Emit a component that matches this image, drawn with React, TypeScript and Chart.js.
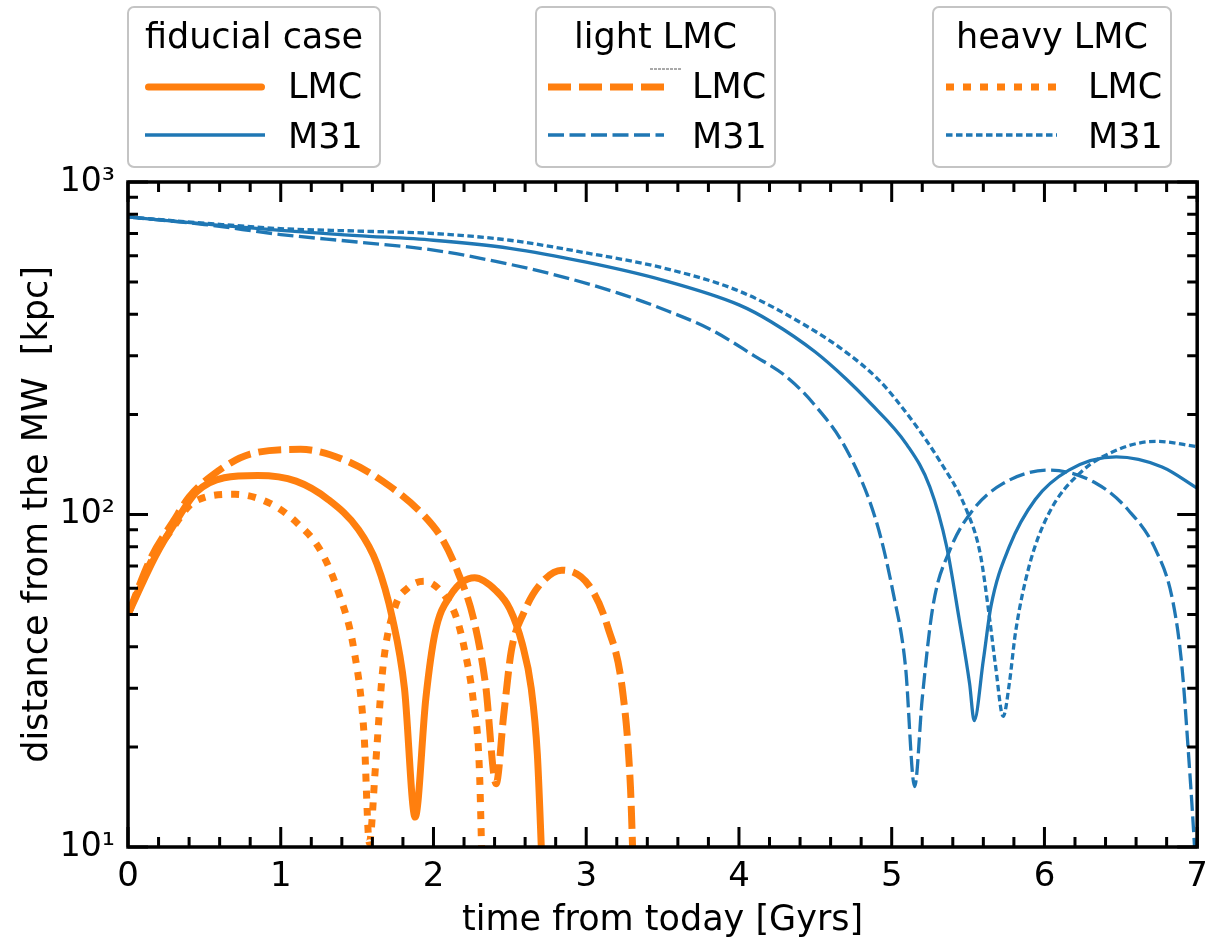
import React, { useEffect, useRef } from 'react';
import { Chart, registerables } from 'chart.js';

Chart.register(...registerables);

const FONT = "'DejaVu Sans', 'Liberation Sans', sans-serif";
const ORANGE = '#ff7f0e';
const BLUE = '#1f77b4';

const X_MIN = 0;
const X_MAX = 7;
const Y_MIN = 10;
const Y_MAX = 1000;
const X_TITLE = 'time from today [Gyrs]';
const Y_TITLE = 'distance from the MW  [kpc]';
const LEGEND_TITLES = ['fiducial case', 'light LMC', 'heavy LMC'];
const LEGEND_LABELS = ['LMC', 'M31'];
const SUPERSCRIPTS = ['⁰', '¹', '²', '³', '⁴'];

// LMC, fiducial case (time in Gyr, distance in kpc)
const lmcFidT = [0, 0.1, 0.18, 0.3, 0.45, 0.63, 0.85, 1.1, 1.31, 1.51, 1.63, 1.73, 1.81, 1.88, 1.95, 2.01, 2.11, 2.27, 2.41, 2.5, 2.58, 2.64, 2.68, 2.71];
const lmcFidD = [50, 63, 75, 93, 117, 129, 131, 126, 111, 90, 71, 49, 30, 12.3, 28, 44, 57, 64.5, 59, 52, 41, 30, 19, 9];
// LMC, light LMC
const lmcLightT = [0, 0.15, 0.3, 0.4, 0.55, 0.8, 1.13, 1.43, 1.71, 1.94, 2.06, 2.16, 2.26, 2.34, 2.41, 2.46, 2.51, 2.59, 2.69, 2.84, 3.02, 3.14, 3.24, 3.29, 3.31];
const lmcLightD = [50, 74, 96, 113, 131, 152, 157, 145, 122, 99, 84, 67, 49, 31, 15.5, 25, 39, 50.5, 61, 68, 61, 46, 29, 15, 8];
// LMC, heavy LMC
const lmcHeavyT = [0, 0.15, 0.3, 0.43, 0.7, 0.93, 1.11, 1.26, 1.38, 1.48, 1.545, 1.58, 1.62, 1.67, 1.75, 1.83, 1.94, 2.06, 2.15, 2.21, 2.26, 2.3, 2.32];
const lmcHeavyD = [50, 72, 92, 109, 115, 108, 94, 78, 58, 39, 22, 10.3, 17.4, 35, 53, 60, 63, 58, 49, 38, 27.7, 17.4, 8];
// M31, fiducial case
const m31FidT = [0, 0.5, 1.0, 1.5, 2.0, 2.5, 3.0, 3.5, 4.0, 4.21, 4.5, 4.7, 4.84, 5.1, 5.25, 5.36, 5.44, 5.51, 5.54, 5.6, 5.65, 5.77, 5.94, 6.16, 6.47, 6.77, 7.0];
const m31FidD = [785, 748, 715, 690, 668, 632, 574, 507, 427, 380, 308, 256, 221, 162, 121, 80, 49, 31, 24, 36.5, 53, 80, 111, 136, 149, 139, 120];
// M31, light LMC
const m31LightT = [0, 0.5, 1.0, 1.5, 2.0, 2.4, 2.8, 3.2, 3.5, 3.82, 4.1, 4.3, 4.49, 4.71, 4.9, 5.01, 5.09, 5.15, 5.2, 5.27, 5.38, 5.53, 5.73, 6.03, 6.34, 6.55, 6.73, 6.84, 6.9, 6.94, 6.98, 7.0];
const m31LightD = [785, 745, 695, 660, 624, 578, 525, 465, 415, 359, 300, 262, 215, 155, 95, 58, 35, 15.2, 28, 53, 78, 103, 124, 136, 124, 103, 78, 55, 35, 20, 10.5, 7];
// M31, heavy LMC
const m31HeavyT = [0, 0.5, 1.0, 1.5, 2.0, 2.5, 3.0, 3.5, 4.0, 4.45, 4.7, 4.9, 5.03, 5.31, 5.49, 5.58, 5.64, 5.68, 5.73, 5.77, 5.81, 5.9, 6.03, 6.23, 6.47, 6.73, 7.0];
const m31HeavyD = [785, 752, 724, 712, 700, 668, 612, 552, 470, 367, 308, 258, 221, 146, 103, 76, 49, 35, 24.7, 31, 44, 70, 101, 133, 156, 166, 160];

const LMC_WIDTH = 7;
const M31_WIDTH = 3.3;
const DASH_LMC_DASHED = [23, 8];
const DASH_LMC_DOTTED = [8, 9];
const DASH_M31_DASHED = [16, 5.5];
const DASH_M31_DOTTED = [6.5, 3.5];

const pts = (t: number[], d: number[]) => t.map((x, i) => ({ x, y: d[i] }));

type LineStyle = { color: string; width: number; dash: number[]; cap: CanvasLineCap };

const styles: { lmc: LineStyle; m31: LineStyle }[] = [
  { lmc: { color: ORANGE, width: LMC_WIDTH, dash: [], cap: 'round' }, m31: { color: BLUE, width: M31_WIDTH, dash: [], cap: 'butt' } },
  { lmc: { color: ORANGE, width: LMC_WIDTH, dash: DASH_LMC_DASHED, cap: 'butt' }, m31: { color: BLUE, width: M31_WIDTH, dash: DASH_M31_DASHED, cap: 'butt' } },
  { lmc: { color: ORANGE, width: LMC_WIDTH, dash: DASH_LMC_DOTTED, cap: 'butt' }, m31: { color: BLUE, width: M31_WIDTH, dash: DASH_M31_DOTTED, cap: 'butt' } },
];

// legend boxes: [left, top, right, bottom, handleStart, handleEnd, textX]
const legendBoxes = [
  [128, 7, 380, 167, 145, 265, 288],
  [536, 7, 775, 167, 548, 664, 692],
  [933, 7, 1171, 167, 946, 1057, 1088],
];

function roundRectPath(ctx: CanvasRenderingContext2D, x0: number, y0: number, x1: number, y1: number, r: number) {
  ctx.beginPath();
  ctx.moveTo(x0 + r, y0);
  ctx.lineTo(x1 - r, y0);
  ctx.arcTo(x1, y0, x1, y0 + r, r);
  ctx.lineTo(x1, y1 - r);
  ctx.arcTo(x1, y1, x1 - r, y1, r);
  ctx.lineTo(x0 + r, y1);
  ctx.arcTo(x0, y1, x0, y1 - r, r);
  ctx.lineTo(x0, y0 + r);
  ctx.arcTo(x0, y0, x0 + r, y0, r);
  ctx.closePath();
}

const decorPlugin = {
  id: 'decor',
  afterDatasetsDraw(chart: any) {
    const { ctx, chartArea: a, scales } = chart;
    const xs = scales.x;
    const ys = scales.y;
    ctx.save();
    ctx.strokeStyle = '#000';
    ctx.lineCap = 'butt';
    ctx.lineWidth = 3;
    for (let i = 0; i <= 35; i++) {
      const px = xs.getPixelForValue(i / 5);
      const len = i % 5 === 0 ? 20 : 10;
      ctx.beginPath();
      ctx.moveTo(px, a.bottom);
      ctx.lineTo(px, a.bottom - len);
      ctx.moveTo(px, a.top);
      ctx.lineTo(px, a.top + len);
      ctx.stroke();
    }
    const yVals: number[] = [];
    for (const dec of [10, 100]) for (let m = 1; m <= 9; m++) yVals.push(m * dec);
    yVals.push(1000);
    for (const v of yVals) {
      const py = ys.getPixelForValue(v);
      const l = Math.log10(v);
      const len = Math.abs(l - Math.round(l)) < 1e-9 ? 20 : 10;
      ctx.beginPath();
      ctx.moveTo(a.left, py);
      ctx.lineTo(a.left + len, py);
      ctx.moveTo(a.right, py);
      ctx.lineTo(a.right - len, py);
      ctx.stroke();
    }
    ctx.lineWidth = 3.5;
    ctx.strokeRect(a.left, a.top, a.right - a.left, a.bottom - a.top);
    ctx.restore();
  },
  afterDraw(chart: any) {
    const { ctx, chartArea: a } = chart;
    ctx.save();
    ctx.fillStyle = '#000';
    ctx.font = `35px ${FONT}`;
    ctx.textAlign = 'center';
    ctx.textBaseline = 'alphabetic';
    ctx.fillText(X_TITLE, (a.left + a.right) / 2, 930);
    ctx.save();
    ctx.translate(47, (a.top + a.bottom) / 2);
    ctx.rotate(-Math.PI / 2);
    ctx.fillText(Y_TITLE, 0, 0);
    ctx.restore();

    legendBoxes.forEach((b, i) => {
      const [x0, y0, x1, y1, h0, h1, tx] = b;
      roundRectPath(ctx, x0, y0, x1, y1, 6);
      ctx.fillStyle = 'rgba(255,255,255,0.9)';
      ctx.fill();
      ctx.strokeStyle = '#c4c4c4';
      ctx.lineWidth = 2;
      ctx.setLineDash([]);
      ctx.stroke();
      ctx.fillStyle = '#000';
      ctx.font = `35px ${FONT}`;
      ctx.textAlign = 'center';
      ctx.fillText(LEGEND_TITLES[i], (x0 + x1) / 2, 48);
      const s = styles[i];
      const rows: [LineStyle, number, number][] = [
        [s.lmc, 87, 98],
        [s.m31, 135, 148],
      ];
      rows.forEach(([st, ly, by], k) => {
        ctx.beginPath();
        ctx.strokeStyle = st.color;
        ctx.lineWidth = st.width;
        ctx.lineCap = st.cap;
        ctx.setLineDash(st.dash);
        const off = st.cap === 'round' ? st.width / 2 : 0;
        ctx.moveTo(h0 + off, ly);
        ctx.lineTo(h1 - off, ly);
        ctx.stroke();
        ctx.setLineDash([]);
        ctx.fillStyle = '#000';
        ctx.textAlign = 'left';
        ctx.fillText(LEGEND_LABELS[k], tx, by);
      });
      if (i === 1) {
        ctx.beginPath();
        ctx.strokeStyle = '#555';
        ctx.lineWidth = 1;
        ctx.setLineDash([3, 1]);
        ctx.moveTo(650, 69);
        ctx.lineTo(682, 69);
        ctx.stroke();
        ctx.setLineDash([]);
      }
    });
    ctx.restore();
  },
};

function ds(t: number[], d: number[], st: LineStyle) {
  return {
    data: pts(t, d),
    borderColor: st.color,
    backgroundColor: st.color,
    borderWidth: st.width,
    borderDash: st.dash,
    borderCapStyle: 'butt' as CanvasLineCap,
    borderJoinStyle: 'round' as CanvasLineJoin,
    pointRadius: 0,
    fill: false,
    cubicInterpolationMode: 'monotone' as const,
    clip: 0,
  };
}

export default function App() {
  const ref = useRef<HTMLCanvasElement | null>(null);
  useEffect(() => {
    document.body.style.margin = '0';
    const canvas = ref.current;
    if (!canvas) return;
    const chart = new Chart(canvas, {
      type: 'line',
      data: {
        datasets: [
          ds(lmcFidT, lmcFidD, styles[0].lmc),
          ds(m31FidT, m31FidD, styles[0].m31),
          ds(lmcLightT, lmcLightD, styles[1].lmc),
          ds(m31LightT, m31LightD, styles[1].m31),
          ds(lmcHeavyT, lmcHeavyD, styles[2].lmc),
          ds(m31HeavyT, m31HeavyD, styles[2].m31),
        ] as any,
      },
      options: {
        animation: false,
        responsive: false,
        devicePixelRatio: 1,
        layout: { padding: { left: 0, top: 182, right: 16, bottom: 0 } },
        plugins: { legend: { display: false }, tooltip: { enabled: false } },
        scales: {
          x: {
            type: 'linear',
            min: X_MIN,
            max: X_MAX,
            border: { display: false },
            grid: { display: false, drawTicks: false },
            ticks: {
              stepSize: 1,
              padding: 10,
              maxRotation: 0,
              autoSkip: false,
              color: '#000',
              font: { family: FONT, size: 34 },
            },
            afterFit: (s: any) => {
              s.height = 91;
            },
          },
          y: {
            type: 'logarithmic',
            min: Y_MIN,
            max: Y_MAX,
            border: { display: false },
            grid: { display: false, drawTicks: false },
            ticks: {
              padding: 13,
              autoSkip: false,
              color: '#000',
              font: { family: FONT, size: 33 },
              callback: (v: any) => {
                const l = Math.log10(Number(v));
                const r = Math.round(l);
                return Math.abs(l - r) < 1e-9 ? '10' + SUPERSCRIPTS[r] : '';
              },
            },
            afterFit: (s: any) => {
              s.width = 128;
            },
          },
        },
      },
      plugins: [decorPlugin],
    });
    return () => chart.destroy();
  }, []);
  return (
    <canvas ref={ref} width={1218} height={938} style={{ display: 'block', width: 1218, height: 938 }} />
  );
}
